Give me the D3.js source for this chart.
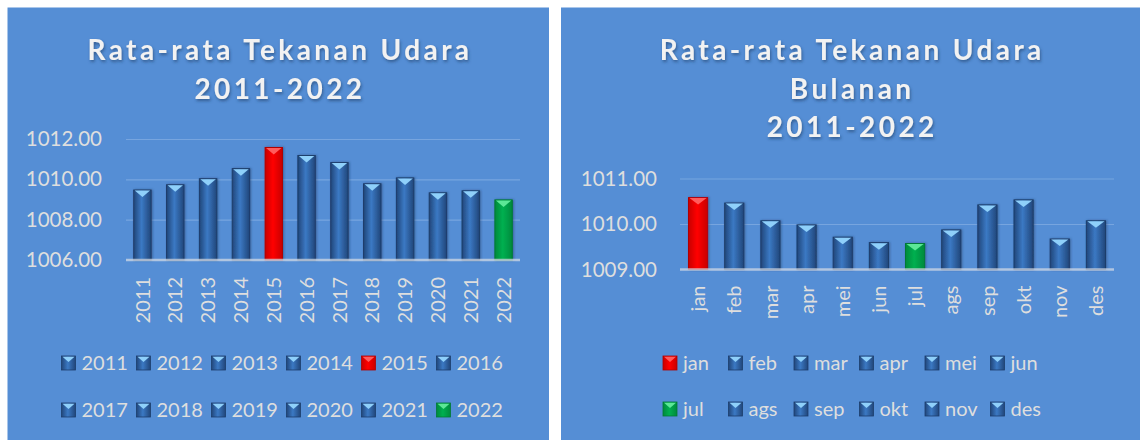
<!DOCTYPE html>
<html>
<head>
<meta charset="utf-8">
<script src="https://cdn.jsdelivr.net/npm/d3@7"></script>
<style>
  body { margin: 0; background: #fff; }
  svg { display: block; font-family: Lato, "Noto Sans", sans-serif; }
</style>
</head>
<body>
<svg id="chart" width="1140" height="440"></svg>
<script>
const years = ["2011", "2012", "2013", "2014", "2015", "2016", "2017", "2018", "2019", "2020", "2021", "2022"];
const yearlyPressure = [1009.47, 1009.73, 1010.03, 1010.53, 1011.58, 1011.18, 1010.83, 1009.78, 1010.07, 1009.33, 1009.43, 1008.98];
const yearlyTicks = [1006, 1008, 1010, 1012];

const months = ["jan", "feb", "mar", "apr", "mei", "jun", "jul", "ags", "sep", "okt", "nov", "des"];
const monthlyPressure = [1010.58, 1010.46, 1010.07, 1009.98, 1009.71, 1009.59, 1009.57, 1009.87, 1010.42, 1010.53, 1009.67, 1010.07];
const monthlyTicks = [1009, 1010, 1011];

const svg = d3.select("#chart");
const defs = svg.append("defs");

// bar looks: edge / middle / bevel colours
const looks = {
  blue:  { edge: "#21467a", mid: "#3b79c4", light: "#8fd0fa", stroke: "#1c3d6b" },
  red:   { edge: "#c80000", mid: "#ff0000", light: "#ff5c5c", stroke: "#b00000" },
  green: { edge: "#008a3c", mid: "#00b050", light: "#5ce796", stroke: "#007a35" }
};
Object.entries(looks).forEach(([k, c]) => {
  const g = defs.append("linearGradient").attr("id", "grad-" + k)
    .attr("x1", 0).attr("x2", 1).attr("y1", 0).attr("y2", 0);
  g.append("stop").attr("offset", "0%").attr("stop-color", c.edge);
  g.append("stop").attr("offset", "45%").attr("stop-color", c.mid);
  g.append("stop").attr("offset", "100%").attr("stop-color", c.edge);
});

const shadow = defs.append("filter").attr("id", "tshadow")
  .attr("x", "-10%").attr("y", "-20%").attr("width", "120%").attr("height", "150%");
shadow.append("feDropShadow").attr("dx", 1).attr("dy", 2).attr("stdDeviation", 1.5)
  .attr("flood-color", "#1b3b66").attr("flood-opacity", 0.6);

const barShadow = defs.append("filter").attr("id", "bshadow")
  .attr("x", "-30%").attr("y", "-10%").attr("width", "160%").attr("height", "120%");
barShadow.append("feDropShadow").attr("dx", 1).attr("dy", 0).attr("stdDeviation", 1.2)
  .attr("flood-color", "#1b3560").attr("flood-opacity", 0.5);

function lookFor(values, i) {
  if (values[i] === d3.max(values)) return "red";
  if (values[i] === d3.min(values)) return "green";
  return "blue";
}

function drawPanel(o) {
  const p = svg.append("g");
  p.append("rect")
    .attr("x", o.x0).attr("y", 7.5)
    .attr("width", o.x1 - o.x0).attr("height", 440 - 7.5)
    .attr("fill", "#558ed5");

  // title
  const cx = (o.x0 + o.x1) / 2;
  p.append("text")
    .attr("text-anchor", "middle")
    .attr("fill", "#f2f2f2")
    .attr("font-weight", 700)
    .attr("font-size", 28)
    .attr("letter-spacing", "3.4px")
    .attr("filter", "url(#tshadow)")
    .selectAll("tspan")
    .data(o.title)
    .join("tspan")
    .attr("x", cx + 1.7)
    .attr("y", (d, i) => 60 + i * 38.5)
    .text(d => d);

  const x = d3.scaleBand().domain(o.cats).range([o.left, o.right]).paddingInner(0.47).paddingOuter(0.235);
  const y = d3.scaleLinear().domain(o.domain).range([o.bottom, o.top]);

  // gridlines
  p.append("g")
    .attr("transform", `translate(${o.left},0)`)
    .call(d3.axisLeft(y).tickValues(o.ticks.slice(1)).tickSize(-(o.right - o.left)).tickFormat(""))
    .call(g => g.select(".domain").remove())
    .call(g => g.selectAll("line").attr("stroke", "#77a5df").attr("stroke-width", 1.2));

  // y labels
  p.append("g")
    .attr("transform", `translate(${o.left},0)`)
    .call(d3.axisLeft(y).tickValues(o.ticks).tickSize(0).tickPadding(o.pad).tickFormat(d3.format(".2f")))
    .call(g => g.select(".domain").remove())
    .call(g => g.selectAll("text").attr("fill", "#dedede").attr("font-size", 20.5)
      .attr("font-family", "Lato, 'Noto Sans', sans-serif"));

  // bars
  const bars = p.append("g").selectAll("g")
    .data(o.vals.map((v, i) => ({ c: o.cats[i], v, look: lookFor(o.vals, i) })))
    .join("g");

  bars.append("rect")
    .attr("x", d => x(d.c))
    .attr("y", d => y(d.v))
    .attr("width", x.bandwidth())
    .attr("height", d => y(o.domain[0]) - y(d.v))
    .attr("fill", d => `url(#grad-${d.look})`)
    .attr("stroke", d => looks[d.look].stroke)
    .attr("stroke-width", 1)
    .attr("filter", "url(#bshadow)");

  bars.append("path")
    .attr("d", d => {
      const bx = x(d.c), bw = x.bandwidth(), by = y(d.v);
      return `M${bx + 1},${by + 0.5}L${bx + bw - 1},${by + 0.5}L${bx + bw / 2},${by + 7}Z`;
    })
    .attr("fill", d => looks[d.look].light);

  // baseline
  p.append("line")
    .attr("x1", o.left).attr("x2", o.right)
    .attr("y1", y(o.domain[0])).attr("y2", y(o.domain[0]))
    .attr("stroke", "#d0d8e4").attr("stroke-opacity", 0.75).attr("stroke-width", 2.5);

  // x labels
  p.append("g")
    .attr("transform", `translate(0,${y(o.domain[0]) + o.xGap})`)
    .call(d3.axisBottom(x).tickSize(0).tickPadding(0))
    .call(g => g.select(".domain").remove())
    .call(g => g.selectAll("text")
      .attr("fill", "#dedede").attr("font-size", 20)
      .attr("font-family", "Lato, 'Noto Sans', sans-serif")
      .attr("text-anchor", "end")
      .attr("transform", "rotate(-90)")
      .attr("x", 0).attr("y", 0).attr("dy", "0.36em"));

  // legend
  const leg = p.append("g").selectAll("g")
    .data(o.cats.map((c, i) => ({ c, look: lookFor(o.vals, i), i })))
    .join("g")
    .attr("transform", d => `translate(${o.legX + (d.i % 6) * o.legStep},${o.legY[Math.floor(d.i / 6)]})`);

  leg.append("rect")
    .attr("x", 0).attr("y", -7).attr("width", 14).attr("height", 14)
    .attr("fill", d => `url(#grad-${d.look})`)
    .attr("stroke", d => looks[d.look].stroke).attr("stroke-width", 0.8);
  leg.append("path")
    .attr("d", "M1,-6.2L13,-6.2L7,-1Z")
    .attr("fill", d => looks[d.look].light);
  leg.append("text")
    .attr("x", 20).attr("dy", "0.36em")
    .attr("fill", "#dedede").attr("font-size", 20)
    .text(d => d.c);
}

drawPanel({
  x0: 7.5, x1: 549, title: ["Rata-rata Tekanan Udara", "2011-2022"],
  cats: years, vals: yearlyPressure, ticks: yearlyTicks, domain: [1006, 1012],
  left: 126, right: 520, top: 139, bottom: 260, pad: 24, xGap: 17,
  legX: 61.5, legStep: 75, legY: [363, 410]
});

drawPanel({
  x0: 561, x1: 1140, title: ["Rata-rata Tekanan Udara", "Bulanan", "2011-2022"],
  cats: months, vals: monthlyPressure, ticks: monthlyTicks, domain: [1009, 1011],
  left: 680, right: 1114, top: 178.5, bottom: 269.5, pad: 23, xGap: 16,
  legX: 663, legStep: 65.5, legY: [363, 409]
});
</script>
</body>
</html>
